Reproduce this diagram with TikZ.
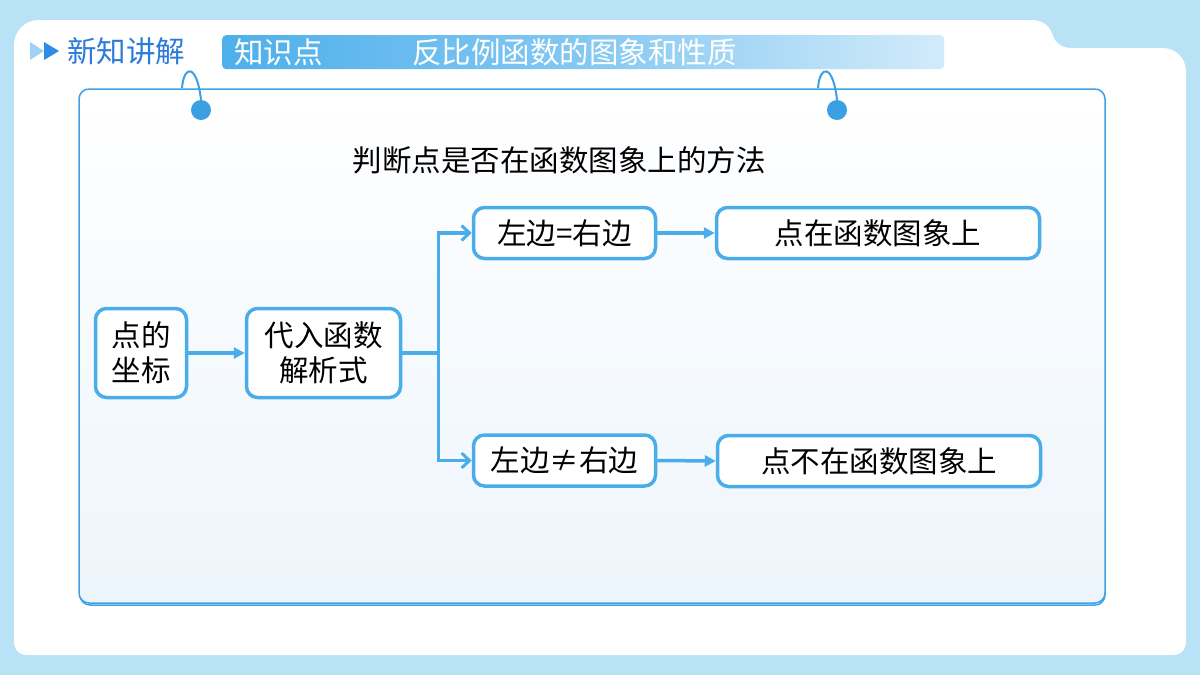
\documentclass[tikz,border=0pt]{standalone}
\usepackage{fontspec}
\setmainfont{Noto Sans CJK SC}
\usetikzlibrary{arrows.meta}
\definecolor{bgblue}{HTML}{B9E2F7}
\definecolor{framec}{HTML}{3FA3E3}
\definecolor{framebot}{HTML}{EDF5FC}
\definecolor{boxc}{HTML}{4AADEA}
\definecolor{hookc}{HTML}{3AA0E2}
\definecolor{titlec}{HTML}{2A7BDB}
\definecolor{triA}{HTML}{9FD2F4}
\definecolor{triB}{HTML}{2E8BE6}
\definecolor{barL}{HTML}{4DAFEB}
\definecolor{barM}{HTML}{84C8F2}
\definecolor{barR}{HTML}{D2EBFA}
\begin{document}
\begin{tikzpicture}[x=1pt,y=-1pt,
  box/.style={draw=boxc, line width=3.5pt, rounded corners=11pt, fill=white,
    align=center, inner sep=0pt, font=\fontsize{29.5}{35}\selectfont},
  link/.style={draw=boxc, line width=3.5pt},
  filledtip/.style={-{Triangle[length=11pt,width=11pt]}},
  barbtip/.style={-{Straight Barb[length=8pt,width=15pt,line width=3pt]}},
  dot/.style={circle, fill=hookc, minimum size=20pt, inner sep=0pt},
  hook/.style={draw=hookc, line width=2pt},
  big/.style={font=\fontsize{29.5}{35}\selectfont, inner sep=0pt},
  bartext/.style={text=white, anchor=west, inner sep=0pt, font=\fontsize{29.5}{32}\selectfont}
]
\useasboundingbox (0,0) rectangle (1200,675);
\fill[bgblue] (0,0) rectangle (1200,675);
% white panel with notch
\fill[white] (14,45) .. controls (14,31) and (25,20) .. (39,20) -- (1030,20)
  .. controls (1046,20) and (1050,28) .. (1053,36)
  .. controls (1056,44) and (1062,48) .. (1072,48) -- (1162,48)
  .. controls (1176,48) and (1186,58) .. (1186,72) -- (1186,641)
  .. controls (1186,650) and (1181,655) .. (1172,655) -- (28,655)
  .. controls (19,655) and (14,650) .. (14,641) -- cycle;
% frame
\draw[framec, line width=1.5pt, rounded corners=10pt] (80,91) rectangle (1105,605);
\draw[framec, line width=1.5pt, rounded corners=10pt, top color=white, bottom color=framebot] (79,89) rectangle (1105,603);
% title
\fill[triA] (30,42) -- (44,51) -- (30,60) -- cycle;
\fill[triB] (44,42) -- (59,51) -- (44,60) -- cycle;
\node[big, text=titlec, anchor=west] (title) at (67,51) {新知讲解};
% title bar
\node[anchor=north west, minimum width=722pt, minimum height=34pt, inner sep=0pt,
  rounded corners=4pt, left color=barL, right color=barR, middle color=barM] (bar) at (222,35) {};
\node[bartext] (kp) at (234,52) {知识点};
\node[bartext] (topic) at (412,52) {反比例函数的图象和性质};
% hooks
\node[dot] (h1) at (201,110) {};
\node[dot] (h2) at (837,110) {};
\draw[hook] (182,88) .. controls (184,64) and (197,64) .. (h1.north);
\draw[hook] (818,88) .. controls (820,64) and (833,64) .. (h2.north);
% heading
\node[big] (head) at (559,160) {判断点是否在函数图象上的方法};
% boxes
\node[box, minimum width=91pt, minimum height=89pt] (A) at (141,353) {点的\\坐标};
\node[box, minimum width=154pt, minimum height=89pt] (B) at (323.5,353) {代入函数\\解析式};
\node[box, minimum width=182pt, minimum height=51pt] (C) at (564.5,233) {左边=右边};
\node[box, minimum width=323pt, minimum height=51pt] (D) at (878,233) {点在函数图象上};
\node[box, minimum width=182pt, minimum height=51pt] (E) at (564.5,460.5) {左边≠右边};
\node[box, minimum width=323pt, minimum height=51pt] (F) at (879,461) {点不在函数图象上};
% connectors
\draw[link, filledtip] (A.east) -- (B.west);
\draw[link, filledtip] (C.east) -- (D.west);
\draw[link, filledtip] (E.east) -- (F.west);
\coordinate (J) at ([xshift=36pt]B.east);
\draw[link, barbtip] (B.east) -- (J) |- (C.west);
\draw[link, barbtip] (B.east) -- (J) |- (E.west);
\end{tikzpicture}
\end{document}
